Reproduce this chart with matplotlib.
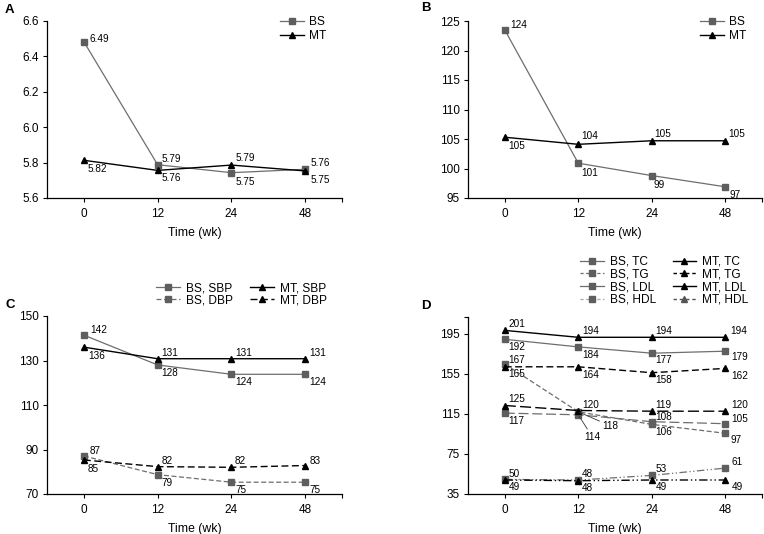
import matplotlib
matplotlib.use("Agg")
import matplotlib.pyplot as plt
from matplotlib.lines import Line2D

plt.rcParams['font.family'] = ['Liberation Sans', 'DejaVu Sans']

# ---------------- data ----------------
time_labels = ['0', '12', '24', '48']

# Panel A
a_bs = [6.483, 5.788, 5.743, 5.762]
a_bs_lab = ['6.49', '5.79', '5.75', '5.76']
a_mt = [5.813, 5.756, 5.786, 5.753]
a_mt_lab = ['5.82', '5.76', '5.79', '5.75']

# Panel B
b_bs = [123.5, 100.9, 98.8, 96.9]
b_bs_lab = ['124', '101', '99', '97']
b_mt = [105.3, 104.1, 104.7, 104.7]
b_mt_lab = ['105', '104', '105', '105']

# Panel C
c_bs_sbp = [141.4, 128.0, 123.8, 123.8]
c_bs_sbp_lab = ['142', '128', '124', '124']
c_mt_sbp = [136.0, 130.8, 130.8, 130.8]
c_mt_sbp_lab = ['136', '131', '131', '131']
c_bs_dbp = [87.1, 78.7, 75.3, 75.3]
c_bs_dbp_lab = ['87', '79', '75', '75']
c_mt_dbp = [85.3, 82.3, 82.0, 82.8]
c_mt_dbp_lab = ['85', '82', '82', '83']

# Panel D
d_bs_tc = [189.7, 182.1, 175.8, 177.8]
d_bs_tc_lab = ['192', '184', '177', '179']
d_mt_tc = [198.6, 191.7, 191.7, 191.7]
d_mt_tc_lab = ['201', '194', '194', '194']
d_bs_tg = [165.0, 117.2, 104.6, 95.7]
d_bs_tg_lab = ['167', '118', '106', '97']
d_mt_tg = [162.2, 162.2, 156.3, 160.6]
d_mt_tg_lab = ['165', '164', '158', '162']
d_bs_ldl = [115.9, 114.2, 107.3, 105.3]
d_bs_ldl_lab = ['117', '114', '108', '105']
d_mt_ldl = [123.5, 118.5, 117.8, 117.8]
d_mt_ldl_lab = ['125', '120', '119', '120']
d_bs_hdl = [49.6, 49.0, 53.6, 60.9]
d_bs_hdl_lab = ['50', '48', '53', '61']
d_mt_hdl = [49.0, 48.3, 49.0, 49.0]
d_mt_hdl_lab = ['49', '48', '49', '49']

# ---------------- style ----------------
GRAY = '#6e6e6e'
GRAY_M = '#5e5e5e'
ANN_FS = 7.2
TICK_FS = 8.5
x = list(range(len(time_labels)))

fig = plt.figure(figsize=(7.64, 5.34), dpi=100)
W, H = 764, 534


def make_ax(left, right, top, bottom):
    return fig.add_axes([left / W, 1 - bottom / H, (right - left) / W, (bottom - top) / H])


def style_ax(ax, ylim, yticks, ylabels, ytop_tick=None):
    ax.set_xlim(-0.5, 3.5)
    ax.set_ylim(*ylim)
    ax.spines['top'].set_visible(False)
    ax.spines['right'].set_visible(False)
    for s in ('left', 'bottom'):
        ax.spines[s].set_linewidth(0.9)
    ax.set_xticks(x + [3.5])
    ax.set_xticklabels(time_labels + [''])
    yt = list(yticks)
    yl = list(ylabels)
    if ytop_tick is not None:
        yt.append(ytop_tick)
        yl.append('')
    ax.set_yticks(yt)
    ax.set_yticklabels(yl)
    ax.tick_params(axis='both', length=3, width=0.8, labelsize=TICK_FS, pad=3)
    ax.tick_params(axis='x', pad=4)
    ax.set_xlabel('Time (wk)', fontsize=TICK_FS + 0.3, labelpad=5)


def series(ax, vals, labs, offs, color, marker, ls, ms, lw=1.0, mcol=None):
    ax.plot(x, vals, color=color, linestyle=ls, linewidth=lw, marker=marker,
            markersize=ms, markerfacecolor=mcol or color, markeredgecolor=mcol or color,
            clip_on=False)
    for xi, v, t, o in zip(x, vals, labs, offs):
        if o is None:
            continue
        if len(o) == 3:
            ax.annotate(t, (xi, v), xytext=(o[0], o[1]), textcoords='offset pixels',
                        fontsize=ANN_FS, ha='left', va='center',
                        arrowprops=dict(arrowstyle='-', lw=0.6, color='#333333',
                                        shrinkA=0, shrinkB=1))
        else:
            ax.annotate(t, (xi, v), xytext=o, textcoords='offset pixels',
                        fontsize=ANN_FS, ha='left', va='center')


def bs(ax, vals, labs, offs, ls='-'):
    series(ax, vals, labs, offs, GRAY, 's', ls, 4.2, lw=0.9, mcol=GRAY_M)


def mt(ax, vals, labs, offs, ls='-'):
    series(ax, vals, labs, offs, 'black', '^', ls, 4.8, lw=1.0)


# ---------------- Panel A ----------------
axA = make_ax(47, 342, 21, 198)
style_ax(axA, (5.6, 6.6), [5.6, 5.8, 6.0, 6.2, 6.4, 6.6],
         ['5.6', '5.8', '6.0', '6.2', '6.4', '6.6'])
bs(axA, a_bs, a_bs_lab, [(6, 3), (4, 6), (4, -9), (5, 6)])
mt(axA, a_mt, a_mt_lab, [(4, -9), (4, -8), (4, 7), (5, -9)])
hA = [Line2D([], [], color=GRAY, marker='s', ms=4.2, mfc=GRAY_M, mec=GRAY_M, lw=0.9),
      Line2D([], [], color='black', marker='^', ms=4.8, lw=1.0)]
axA.legend(hA, ['BS', 'MT'], loc='upper left', bbox_to_anchor=(0.79, 1.03),
           frameon=False, fontsize=8.6, handlelength=2.0, handletextpad=0.4,
           labelspacing=0.2, borderpad=0, borderaxespad=0)

# ---------------- Panel B ----------------
axB = make_ax(468, 762, 21, 198)
style_ax(axB, (95, 125), [95, 100, 105, 110, 115, 120, 125],
         ['95', '100', '105', '110', '115', '120', '125'])
bs(axB, b_bs, b_bs_lab, [(6, 5), (3, -10), (2, -9), (4, -8)])
mt(axB, b_mt, b_mt_lab, [(4, -9), (3, 8), (3, 7), (3, 7)])
axB.legend(hA, ['BS', 'MT'], loc='upper left', bbox_to_anchor=(0.79, 1.03),
           frameon=False, fontsize=8.6, handlelength=2.0, handletextpad=0.4,
           labelspacing=0.2, borderpad=0, borderaxespad=0)

# ---------------- Panel C ----------------
axC = make_ax(47, 342, 316, 494)
style_ax(axC, (70, 150), [70, 90, 110, 130, 150], ['70', '90', '110', '130', '150'])
DASH_BS = (0, (4, 2))
DASH_MT = (0, (5, 2.5))
bs(axC, c_bs_sbp, c_bs_sbp_lab, [(6, 5), (4, -8), (4, -8), (4, -8)])
mt(axC, c_mt_sbp, c_mt_sbp_lab, [(4, -9), (4, 6), (4, 6), (4, 6)])
bs(axC, c_bs_dbp, c_bs_dbp_lab, [(6, 5), (4, -8), (4, -8), (4, -8)], ls=DASH_BS)
mt(axC, c_mt_dbp, c_mt_dbp_lab, [(4, -9), (4, 6), (3, 6), (5, 5)], ls=DASH_MT)
hC = [Line2D([], [], color=GRAY, marker='s', ms=4.2, mfc=GRAY_M, mec=GRAY_M, lw=0.9),
      Line2D([], [], color=GRAY, marker='s', ms=4.2, mfc=GRAY_M, mec=GRAY_M, lw=0.9, ls=DASH_BS),
      Line2D([], [], color='black', marker='^', ms=4.8, lw=1.0),
      Line2D([], [], color='black', marker='^', ms=4.8, lw=1.0, ls=DASH_MT)]
axC.legend(hC, ['BS, SBP', 'BS, DBP', 'MT, SBP', 'MT, DBP'], ncol=2, loc='upper left',
           bbox_to_anchor=(0.37, 1.19), frameon=False, fontsize=8.6, handlelength=2.0,
           handletextpad=0.5, labelspacing=0.0, columnspacing=1.4, borderpad=0,
           borderaxespad=0)

# ---------------- Panel D ----------------
axD = make_ax(468, 762, 317, 494)
style_ax(axD, (35, 212), [35, 75, 115, 155, 195], ['35', '75', '115', '155', '195'],
         ytop_tick=212)
LDASH = (0, (8, 3))
HDL_DASH = (0, (6, 2, 1, 2, 1, 2))
bs(axD, d_bs_tc, d_bs_tc_lab, [(4, -8), (4, -8), (4, -7), (6, -6)])
mt(axD, d_mt_tc, d_mt_tc_lab, [(4, 6), (4, 6), (4, 6), (5, 6)])
bs(axD, d_bs_tg, d_bs_tg_lab, [(4, 4), (24, -14, 'L'), (4, -8), (5, -7)], ls=DASH_BS)
mt(axD, d_mt_tg, d_mt_tg_lab, [(4, -7), (4, -8), (4, -7), (6, -8)], ls=DASH_MT)
bs(axD, d_bs_ldl, d_bs_ldl_lab, [(4, -8), (6, -22, 'L'), (4, 5), (6, 5)], ls=LDASH)
mt(axD, d_mt_ldl, d_mt_ldl_lab, [(4, 6), (4, 6), (4, 6), (6, 6)], ls=LDASH)
bs(axD, d_bs_hdl, d_bs_hdl_lab, [(4, 5), (4, 6), (4, 6), (6, 6)], ls=HDL_DASH)
mt(axD, d_mt_hdl, d_mt_hdl_lab, [(4, -7), (4, -7), (4, -7), (6, -7)], ls=HDL_DASH)
LEG_DASH = (0, (2.5, 2))
hD = [Line2D([], [], color=GRAY, marker='s', ms=4.2, mfc=GRAY_M, mec=GRAY_M, lw=0.9),
      Line2D([], [], color=GRAY, marker='s', ms=4.2, mfc=GRAY_M, mec=GRAY_M, lw=0.9, ls=LEG_DASH),
      Line2D([], [], color=GRAY, marker='s', ms=4.2, mfc=GRAY_M, mec=GRAY_M, lw=0.9),
      Line2D([], [], color='#aaaaaa', marker='s', ms=4.2, mfc=GRAY_M, mec=GRAY_M, lw=0.9, ls=LEG_DASH),
      Line2D([], [], color='black', marker='^', ms=4.8, lw=1.0),
      Line2D([], [], color='black', marker='^', ms=4.8, lw=1.0, ls=LEG_DASH),
      Line2D([], [], color='black', marker='^', ms=4.8, lw=1.0),
      Line2D([], [], color='#555555', marker='^', ms=4.8, lw=1.0, ls=LEG_DASH)]
axD.legend(hD, ['BS, TC', 'BS, TG', 'BS, LDL', 'BS, HDL', 'MT, TC', 'MT, TG', 'MT, LDL', 'MT, HDL'],
           ncol=2, loc='upper left', bbox_to_anchor=(0.38, 1.345), frameon=False,
           fontsize=8.6, handlelength=2.0, handletextpad=0.5, labelspacing=0.05,
           columnspacing=1.4, borderpad=0, borderaxespad=0)

# panel letters
for t, px, py in [('A', 5, 10), ('B', 421, 8), ('C', 5, 305), ('D', 421, 306)]:
    fig.text(px / W, 1 - py / H, t, fontsize=9.5, fontweight='bold', va='center', ha='left')

fig.savefig('out.png', dpi=100)
